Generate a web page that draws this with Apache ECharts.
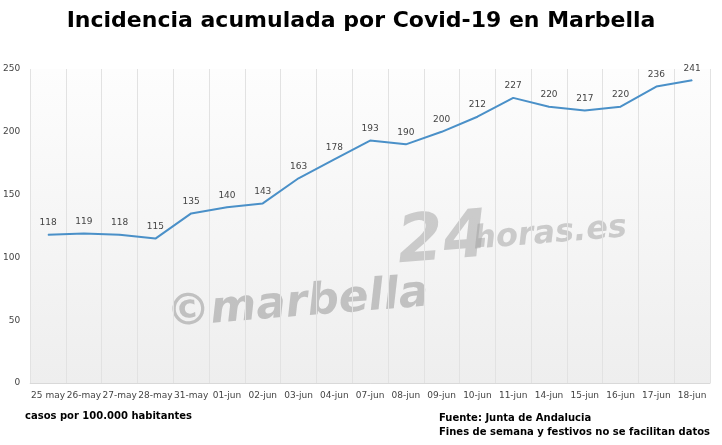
<!DOCTYPE html>
<html><head><meta charset="utf-8">
<script src="https://cdn.jsdelivr.net/npm/echarts@6/dist/echarts.min.js"></script>
<style>html,body{margin:0;padding:0;background:#fff}#c{width:722px;height:445px}</style>
</head><body><div id="c"></div>
<script>
const categories = ['25 may','26-may','27-may','28-may','31-may','01-jun','02-jun','03-jun','04-jun','07-jun','08-jun','09-jun','10-jun','11-jun','14-jun','15-jun','16-jun','17-jun','18-jun']
const values = [118,119,118,115,135,140,143,163,178,193,190,200,212,227,220,217,220,236,241]
const yTicks = [0,50,100,150,200,250]

const chart = echarts.init(document.getElementById('c'))
chart.setOption({
  animation: false,
  title: {
    text: 'Incidencia acumulada por Covid-19 en Marbella',
    left: 'center', top: 5,
    textStyle: { fontFamily: 'DejaVu Sans', fontWeight: 'bold', fontSize: 22, color: '#000' }
  },
  grid: { left: 25, right: 12, top: 69, bottom: 62,
    backgroundColor: new echarts.graphic.LinearGradient(0, 0, 0, 1, [
      { offset: 0, color: '#fdfdfd' }, { offset: 1, color: '#eeeeee' }]), show: true, borderWidth: 0 },
  xAxis: {
    type: 'category', data: categories, boundaryGap: true,
    axisLine: { lineStyle: { color: '#d9d9d9' } },
    axisTick: { show: false },
    splitLine: { show: true, interval: 0, lineStyle: { color: '#e2e2e2' } },
    axisLabel: { interval: 0, color: '#444', fontSize: 9, fontFamily: 'DejaVu Sans', margin: 8 }
  },
  yAxis: {
    type: 'value', min: yTicks[0], max: yTicks[yTicks.length - 1], interval: 50,
    splitLine: { show: false },
    axisLine: { show: false }, axisTick: { show: false },
    axisLabel: { color: '#444', fontSize: 9, fontFamily: 'DejaVu Sans', margin: 10 }
  },
  graphic: [
    { type: 'text', left: 165, top: 272, rotation: 0.08,
      style: { text: '©marbella', font: 'italic bold 44px DejaVu Sans', fill: 'rgba(160,160,160,0.6)' } },
    { type: 'text', left: 395, top: 205, rotation: 0.08,
      style: { text: '24', font: 'italic bold 66px DejaVu Sans', fill: 'rgba(160,160,160,0.5)' } },
    { type: 'text', left: 472, top: 212, rotation: 0.08,
      style: { text: 'horas.es', font: 'italic bold 32px DejaVu Sans', fill: 'rgba(160,160,160,0.5)' } },
    { type: 'text', left: 25, top: 411,
      style: { text: 'casos por 100.000 habitantes', font: 'bold 10px DejaVu Sans', fill: '#000' } },
    { type: 'text', right: 12, top: 411,
      style: { text: 'Fuente: Junta de Andalucia\nFines de semana y festivos no se facilitan datos',
        font: 'bold 10px DejaVu Sans', fill: '#000', align: 'right', lineHeight: 14 } }
  ],
  series: [{
    type: 'line', data: values, symbol: 'circle', symbolSize: 1, showSymbol: true,
    itemStyle: { color: '#4a90c8' },
    lineStyle: { color: '#4a90c8', width: 2 },
    label: { show: true, position: 'top', color: '#444', fontSize: 9, fontFamily: 'DejaVu Sans', offset: [0, -2] }
  }]
})
</script></body></html>
